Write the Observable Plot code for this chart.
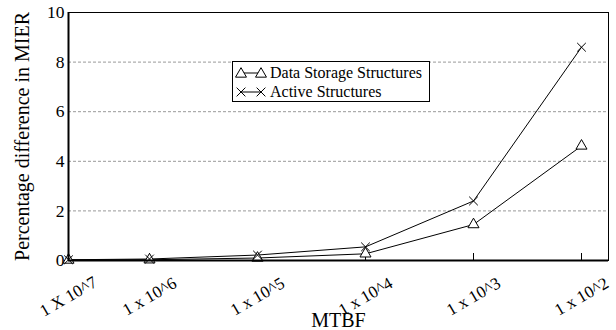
<!DOCTYPE html>
<html><head><meta charset="utf-8">
<script src="https://cdn.jsdelivr.net/npm/d3@7"></script>
<script src="https://cdn.jsdelivr.net/npm/@observablehq/plot@0.6"></script>
<style>
body{margin:0;background:#fff}
#wrap{position:relative;width:616px;height:330px}
#wrap svg, #wrap text{font-family:"Liberation Serif","Times New Roman",Times,serif}
.legend{position:absolute;left:232px;top:61px;width:198px;height:41px;border:1px solid #000;background:#fff;font-family:"Liberation Serif","Times New Roman",Times,serif;font-size:16px;color:#000;box-sizing:border-box;padding-top:1px;white-space:nowrap}
.legend .row{display:flex;align-items:center;height:19px}
.legend svg{display:block;margin-left:2px;margin-right:3px}
</style></head><body><div id="wrap"></div>
<script>
const categories = ["1 X 10^7", "1 x 10^6", "1 x 10^5", "1 x 10^4", "1 x 10^3", "1 x 10^2"];
const xPositions = [0, 0.75, 1.75, 2.75, 3.75, 4.75];
const storage = [0.02, 0.03, 0.1, 0.27, 1.45, 4.62];
const active = [0.03, 0.06, 0.22, 0.55, 2.4, 8.6];
const yTicks = [0, 2, 4, 6, 8, 10];
const gridTicks = [2, 4, 6, 8];
const seriesNames = ["Data Storage Structures", "Active Structures"];

const serif = '"Liberation Serif", "Times New Roman", Times, serif';
const rows = categories.map((c, i) => ({c, x: xPositions[i], storage: storage[i], active: active[i]}));

const chart = Plot.plot({
  width: 616, height: 330,
  marginTop: 12, marginRight: 8, marginBottom: 70, marginLeft: 68,
  style: {fontFamily: serif, fontSize: "17px", background: "#fff", color: "#000", overflow: "visible"},
  x: {domain: [0, 5], axis: null},
  y: {domain: [0, 10], axis: null},
  marks: [
    Plot.gridY(gridTicks, {stroke: "#999", strokeOpacity: 1, strokeDasharray: "3,2"}),
    Plot.axisY(yTicks, {tickSize: 0, tickPadding: 4, label: null, fontSize: 17.5}),
    Plot.tickX(rows, {x: "x", insetTop: 241, stroke: "#000"}),
    Plot.line(rows, {x: "x", y: "active", stroke: "#000", strokeWidth: 1}),
    Plot.line(rows, {x: "x", y: "storage", stroke: "#000", strokeWidth: 1}),
    Plot.dot(rows, {x: "x", y: "storage", symbol: "triangle", r: 4.1, fill: "#fff", stroke: "#000", strokeWidth: 1}),
    Plot.dot(rows, {x: "x", y: "active", symbol: "times", r: 4, stroke: "#000", strokeWidth: 1}),
    Plot.frame({stroke: "#000"}),
    Plot.ruleY([0], {stroke: "#000", strokeWidth: 2}),
    Plot.ruleX([0], {stroke: "#000", strokeWidth: 2}),
    Plot.text(rows, {x: "x", text: "c", frameAnchor: "bottom", lineAnchor: "middle", textAnchor: "middle", dy: 36, rotate: -30, fontSize: 17}),
    Plot.text(["MTBF"], {text: d => d, frameAnchor: "bottom", lineAnchor: "middle", textAnchor: "middle", dy: 60, fontSize: 20}),
    Plot.text(["Percentage difference in MIER"], {text: d => d, frameAnchor: "left", lineAnchor: "middle", textAnchor: "middle", dx: -46, rotate: -90, fontSize: 20})
  ]
});
const wrap = document.getElementById("wrap");
wrap.appendChild(chart);

// legend
const legend = document.createElement("div");
legend.className = "legend";
const symbols = [d3.symbolTriangle, d3.symbolTimes];
seriesNames.forEach((name, i) => {
  const row = document.createElement("div");
  row.className = "row";
  const svg = d3.create("svg").attr("width", 32).attr("height", 16);
  svg.append("line").attr("x1", 6).attr("x2", 26).attr("y1", 8).attr("y2", 8).attr("stroke", "#000");
  const path = d3.symbol(symbols[i], 52)();
  [6, 26].forEach(cx => {
    svg.append("path").attr("d", path).attr("transform", `translate(${cx},${i === 0 ? 9 : 8})`)
      .attr("fill", i === 0 ? "#fff" : "none").attr("stroke", "#000");
  });
  row.appendChild(svg.node());
  const span = document.createElement("span");
  span.textContent = name;
  row.appendChild(span);
  legend.appendChild(row);
});
wrap.appendChild(legend);
</script>
</body></html>
